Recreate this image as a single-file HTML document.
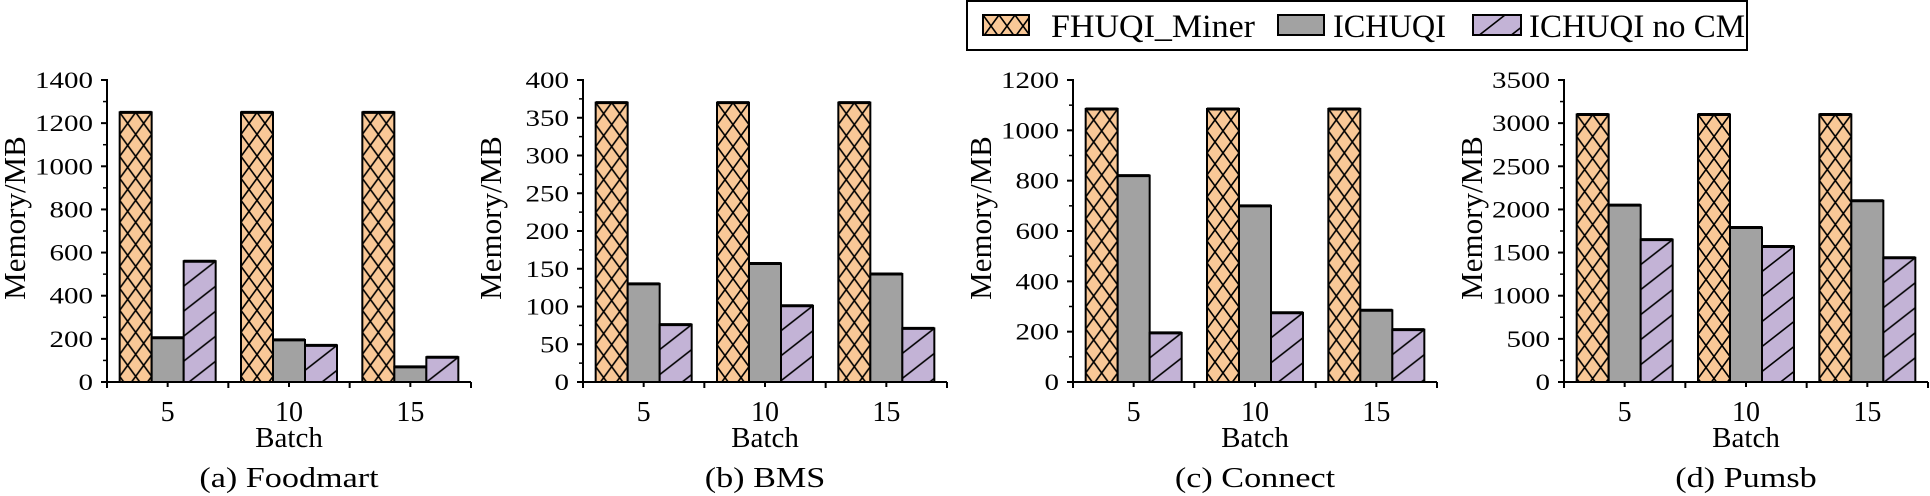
<!DOCTYPE html>
<html><head><meta charset="utf-8">
<style>
html,body{margin:0;padding:0;background:#fff;}
svg{display:block;font-family:"Liberation Serif",serif;}
</style></head>
<body>
<svg id="chart" width="1930" height="496" viewBox="0 0 1930 496">
<defs id="defs"></defs>
<g id="legend">
  <rect x="967" y="1" width="780" height="49" fill="#fff" stroke="#000" stroke-width="2"/>
</g>
</svg>
<script>
const categories = ["5","10","15"];
const seriesNames = ["FHUQI_Miner","ICHUQI","ICHUQI no CM"];
const panelTitles = ["(a) Foodmart","(b) BMS","(c) Connect","(d) Pumsb"];
const yMaxes = [1400,400,1200,3500];
const ySteps = [200,50,200,500];
const fhuqiA = [1250,1250,1250], ichuqiA = [205,195,70], nocmA = [560,170,115];
const fhuqiB = [370,370,370], ichuqiB = [130,157,143], nocmB = [76,101,71];
const fhuqiC = [1085,1085,1085], ichuqiC = [820,700,285], nocmC = [195,275,208];
const fhuqiD = [3100,3100,3100], ichuqiD = [2050,1790,2100], nocmD = [1650,1570,1440];
const panelData = [[fhuqiA,ichuqiA,nocmA],[fhuqiB,ichuqiB,nocmB],[fhuqiC,ichuqiC,nocmC],[fhuqiD,ichuqiD,nocmD]];

const NS="http://www.w3.org/2000/svg";
const svg=document.getElementById('chart');
const defs=document.getElementById('defs');
const legend=document.getElementById('legend');
function mk(tag,attrs,parent){const e=document.createElementNS(NS,tag);for(const k in attrs)e.setAttribute(k,attrs[k]);(parent||svg).appendChild(e);return e;}
let pid=0;
function fillFor(s,x,y){
  if(s===1) return '#a2a2a2';
  const id='p'+(pid++);
  if(s===0){
    const p=mk('pattern',{id:id,patternUnits:'userSpaceOnUse',x:x,y:y,width:16,height:22},defs);
    mk('rect',{x:0,y:0,width:16,height:22,fill:'#f9c897'},p);
    mk('path',{d:'M0,0L16,22M16,0L0,22',stroke:'#000','stroke-width':1.6},p);
  } else {
    const p=mk('pattern',{id:id,patternUnits:'userSpaceOnUse',x:x,y:y,width:32,height:25},defs);
    mk('rect',{x:0,y:0,width:32,height:25,fill:'#c3b3d6'},p);
    mk('path',{d:'M0,25L32,0M-4,3L4,-3M28,28L36,22',stroke:'#000','stroke-width':1.6},p);
  }
  return 'url(#'+id+')';
}
function fitText(t,scale){const L=t.getComputedTextLength();t.setAttribute('textLength',L*scale);t.setAttribute('lengthAdjust','spacingAndGlyphs');}
const panelX=[107,583,1073,1564];
const panelW=364, yTop=80, yZero=382, barW=32;
panelData.forEach((series,pi)=>{
  const g=mk('g',{});
  
  
  const x0=panelX[pi];
  const ymax=yMaxes[pi];
  const yS=v=>yZero-(v/ymax)*(yZero-yTop);
  const xC=i=>x0+panelW/3*(i+0.5);
  series.forEach((vals,s)=>{
    vals.forEach((v,i)=>{
      const bx=xC(i)-1.5*barW+s*barW, by=yS(v);
      const r=mk('rect',{x:bx,y:by,width:barW,height:yZero-by,fill:fillFor(s,bx,by),stroke:'#000','stroke-width':2},g);
      
      
      mk('line',{x1:bx,x2:bx+barW,y1:by,y2:by,stroke:'#000','stroke-width':3},g);
    });
  });
  mk('line',{x1:x0,x2:x0,y1:yTop-1,y2:yZero,stroke:'#000','stroke-width':2},g);
  mk('line',{x1:x0,x2:x0+panelW,y1:yZero,y2:yZero,stroke:'#000','stroke-width':2},g);
  for(let v=0;v<=ymax;v+=ySteps[pi]){
    const y=yS(v);
    mk('line',{x1:x0-6,x2:x0,y1:y,y2:y,stroke:'#000','stroke-width':2},g);
    const s=String(v);
    const t=mk('text',{x:x0-14.5*s.length-14,y:y+8,'font-size':23,textLength:14.5*s.length,lengthAdjust:'spacingAndGlyphs'},g);
    t.textContent=s;
    
    
    if(v+ySteps[pi]<=ymax){const ym=yS(v+ySteps[pi]/2);mk('line',{x1:x0-4,x2:x0,y1:ym,y2:ym,stroke:'#000','stroke-width':1.5},g);}
  }
  for(let i=0;i<=3;i++){const x=x0+panelW/3*i;mk('line',{x1:x,x2:x,y1:yZero,y2:yZero+6,stroke:'#000','stroke-width':2},g);}
  categories.forEach((c,i)=>{
    mk('line',{x1:xC(i),x2:xC(i),y1:yZero,y2:yZero+5,stroke:'#000','stroke-width':2},g);
    const t=mk('text',{x:xC(i),y:421,'text-anchor':'middle','font-size':28},g);
    t.textContent=c;
    
    
  });
  const xt=mk('text',{x:x0+panelW/2,y:447,'text-anchor':'middle','font-size':29},g);
  xt.textContent='Batch';
  
  
  const cap=mk('text',{x:x0+panelW/2,y:487,'text-anchor':'middle','font-size':28},g);
  cap.textContent=panelTitles[pi];
  
  
  fitText(cap,1.22);
  const yt=mk('text',{x:0,y:0,'text-anchor':'middle','font-size':31,transform:'translate('+(x0-82)+',218) rotate(-90)'},g);
  yt.textContent='Memory/MB';
  
  
});
const legX=[983,1278,1473], legW=[46,46,48], legTX=[1051,1333,1529], legTL=[204,113,216];
seriesNames.forEach((n,s)=>{
  const e=mk('g',{},legend);
  
  
  mk('rect',{x:legX[s],y:15,width:legW[s],height:20,fill:fillFor(s,legX[s],15),stroke:'#000','stroke-width':2},e);
  const t=mk('text',{x:legTX[s],y:37,'font-size':33,textLength:legTL[s],lengthAdjust:'spacingAndGlyphs'},e);
  t.textContent=n;
});
</script>
</body></html>
